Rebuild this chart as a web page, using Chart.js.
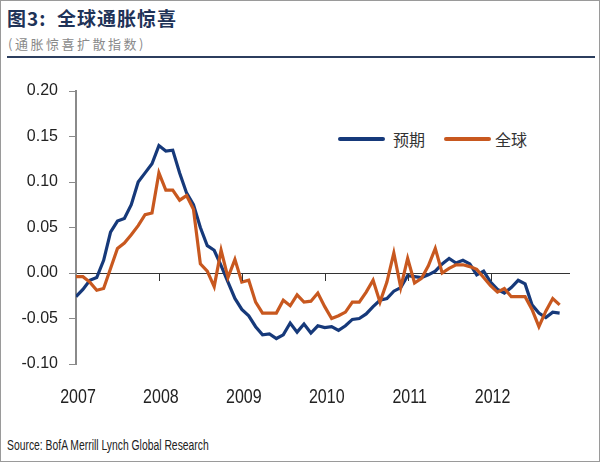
<!DOCTYPE html>
<html><head><meta charset="utf-8">
<script src="https://cdn.jsdelivr.net/npm/chart.js@4/dist/chart.umd.min.js"></script>
<style>
html,body{margin:0;padding:0;background:#fff;}
#frame{position:absolute;left:0;top:0;width:598px;height:460px;border:1px solid #9a9a9a;}
.t{position:absolute;white-space:nowrap;}
#title{left:7px;top:4px;font:600 19px "Noto Sans CJK SC",sans-serif;color:#1f3358;letter-spacing:1px;}
#sub{left:8px;top:34px;font:13px "Noto Sans CJK SC",sans-serif;color:#8a8a8a;letter-spacing:2.5px;}
#rule{position:absolute;left:7px;top:56px;width:588px;height:2px;background:#2c3e5e;}
#src{left:7px;top:437px;font:14px "Liberation Sans",Arial,sans-serif;color:#222;transform:scaleX(0.74);transform-origin:0 0;}
.seg{position:absolute;height:4px;border-radius:2px;}
.lg{font:16px "Noto Sans CJK SC",sans-serif;color:#333;}
#cwrap{position:absolute;left:0;top:60px;width:600px;height:370px;}
</style></head>
<body>
<div id="frame"></div>
<div class="t" id="title">图3:&nbsp; 全球通胀惊喜</div>
<div class="t" id="sub">(通胀惊喜扩散指数)</div>
<div id="rule"></div>
<div class="seg" style="left:338px;top:137px;width:47px;background:#16397a"></div>
<div class="t lg" style="left:393px;top:127px">预期</div>
<div class="seg" style="left:444px;top:137px;width:47px;background:#c8581f"></div>
<div class="t lg" style="left:495px;top:127px">全球</div>
<div class="t" id="src">Source: BofA Merrill Lynch Global Research</div>
<div id="cwrap"><canvas id="c" width="600" height="370"></canvas></div>
<script>
// Monthly data, Jan 2007 .. Nov 2012
const startYear = 2007;
const yearLabels = ["2007","2008","2009","2010","2011","2012"];
const yTicks = [-0.10,-0.05,0.00,0.05,0.10,0.15,0.20];
const expected = [ // 预期
 -0.026,-0.018,-0.008,-0.005,0.014,0.045,0.057,0.060,0.075,0.100,0.110,0.120,
 0.140,0.134,0.135,0.110,0.088,0.075,0.050,0.030,0.025,0.008,-0.010,-0.028,
 -0.040,-0.047,-0.059,-0.068,-0.067,-0.072,-0.068,-0.055,-0.065,-0.056,-0.066,-0.058,
 -0.060,-0.059,-0.063,-0.058,-0.051,-0.050,-0.045,-0.037,-0.030,-0.028,-0.020,-0.016,
 -0.003,-0.004,-0.005,-0.002,0.002,0.010,0.016,0.011,0.014,0.010,-0.002,0.002,
 -0.010,-0.018,-0.022,-0.016,-0.008,-0.012,-0.035,-0.044,-0.049,-0.043,-0.044
];
const globalS = [ // 全球
 -0.004,-0.004,-0.010,-0.019,-0.017,0.005,0.027,0.033,0.042,0.052,0.064,0.066,
 0.110,0.091,0.091,0.080,0.085,0.070,0.010,0.002,-0.015,0.025,-0.005,0.015,
 -0.010,-0.008,-0.032,-0.044,-0.044,-0.044,-0.030,-0.036,-0.024,-0.032,-0.031,-0.022,
 -0.037,-0.050,-0.047,-0.043,-0.032,-0.032,-0.021,-0.008,-0.032,-0.010,0.022,-0.016,
 0.016,-0.011,-0.006,0.008,0.027,0.000,0.005,0.009,0.009,0.007,0.004,-0.005,
 -0.014,-0.021,-0.017,-0.026,-0.026,-0.026,-0.040,-0.059,-0.042,-0.028,-0.035
];
const toPts = arr => arr.map((v,i)=>({x:i,y:v}));

const yearAxis = {
  id:'yearAxis',
  afterDatasetsDraw(chart){
    const xs=chart.scales.x, ys=chart.scales.y, ctx=chart.ctx;
    const y0=ys.getPixelForValue(0);
    ctx.save(); ctx.strokeStyle='#333'; ctx.lineWidth=1;
    for(let k=1;k<yearLabels.length;k++){
      const px=Math.round(xs.getPixelForValue(k*12))+0.5;
      ctx.beginPath(); ctx.moveTo(px,y0); ctx.lineTo(px,y0+8); ctx.stroke();
    }
    ctx.fillStyle='#222'; ctx.textAlign='center'; ctx.textBaseline='middle';
    ctx.font='20px "Liberation Sans", Arial, sans-serif';
    const ly=chart.chartArea.bottom+33;
    yearLabels.forEach((lab,k)=>{
      const px=xs.getPixelForValue(k*12)+2;
      ctx.save(); ctx.translate(px,ly); ctx.scale(0.8,1); ctx.fillText(lab,0,0); ctx.restore();
    });
    ctx.restore();
  }
};

new Chart(document.getElementById('c'),{
  type:'line',
  data:{datasets:[
    {label:'预期',data:toPts(expected),borderColor:'#16397a',borderWidth:3.2,pointRadius:0,tension:0,order:2},
    {label:'全球',data:toPts(globalS),borderColor:'#c8581f',borderWidth:3.2,pointRadius:0,tension:0,order:1}
  ]},
  options:{
    responsive:false,animation:false,
    layout:{padding:{left:0,right:30,top:31,bottom:0}},
    plugins:{legend:{display:false},tooltip:{enabled:false}},
    scales:{
      x:{type:'linear',min:0,max:71.5,
        grid:{display:false,drawTicks:false},border:{display:false},
        afterBuildTicks(s){s.ticks=yearLabels.map((_,k)=>({value:k*12}));},
        afterFit(s){s.height=66;},
        ticks:{display:false}
      },
      y:{min:-0.10,max:0.20,
        afterBuildTicks(s){s.ticks=yTicks.map(v=>({value:v}));},
        afterFit(s){s.width=76;},
        grid:{color:c=>Math.abs(c.tick.value)<1e-9?'#333':'rgba(0,0,0,0)',lineWidth:1,
          tickColor:'#8a8a8a',tickLength:7,drawTicks:true},
        border:{display:true,color:'#8a8a8a',width:2},
        ticks:{padding:11,color:'#222',font:{family:'"Liberation Sans",Arial',size:16},
          callback:v=>v.toFixed(2)}
      }
    }
  },
  plugins:[yearAxis]
});
</script>
</body></html>
